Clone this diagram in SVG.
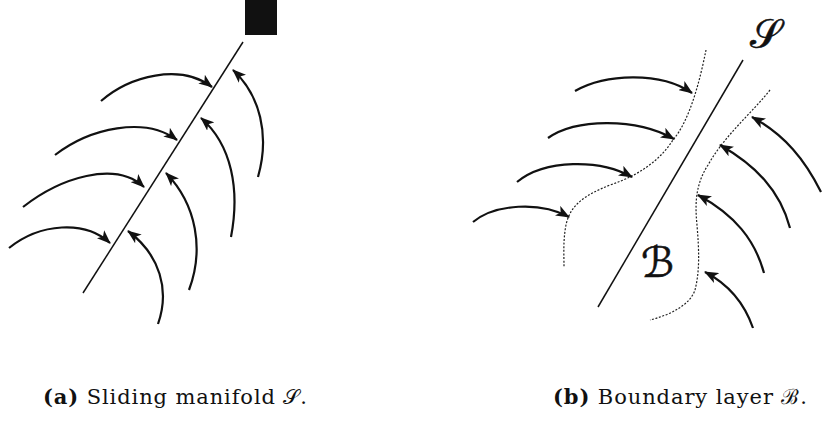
<svg xmlns="http://www.w3.org/2000/svg" width="822" height="421" viewBox="0 0 822 421">
<style>
.ln{fill:none;stroke:#111;stroke-width:1.5}
.ar{fill:none;stroke:#111;stroke-width:2.2;marker-end:url(#ah)}
.ds{fill:none;stroke:#222;stroke-width:1.2;stroke-dasharray:2 1.6}
.cap{font-family:"DejaVu Serif","Liberation Serif",serif;font-size:21px;fill:#111}
.sym{font-family:"DejaVu Serif","DejaVu Sans","Noto Sans",serif;fill:#111;stroke:#111;stroke-width:0.6}
</style>
<defs>
<marker id="ah" viewBox="0 0 14 11" refX="13" refY="5.5" markerWidth="14" markerHeight="11" markerUnits="userSpaceOnUse" orient="auto">
<path d="M0,0 L14,5.5 L0,11 L3.5,5.5 Z" fill="#111"/>
</marker>
</defs>
<g id="panel-a">
<g id="block"><rect x="245" y="0" width="32" height="35" fill="#111"/></g>
<g id="manifold-a"><path class="ln" d="M243,42 L83,293"/></g>
<g id="connectors-a">
<path class="ar" d="M101,101 C130,76 180,63 212,87"/>
<path class="ar" d="M55,155 C90,128 145,116 177,140"/>
<path class="ar" d="M23,207 C60,178 115,160 144,187"/>
<path class="ar" d="M9,248 C40,223 85,220 110,243"/>
<path class="ar" d="M258,177 C270,135 260,95 233,70"/>
<path class="ar" d="M231,237 C240,190 232,145 201,118"/>
<path class="ar" d="M189,290 C204,250 197,205 166,173"/>
<path class="ar" d="M158,324 C170,290 160,255 128,231"/>
</g>
</g>
<g id="panel-b">
<g id="manifold-b"><path class="ln" d="M743,60 L598,307"/></g>
<g id="layer-b">
<path class="ds" d="M706,50 C700,80 690,120 673,140 C660,160 640,175 610,185 C585,195 570,205 566,225 C563,240 564,255 564,267"/>
<path class="ds" d="M770,90 C750,115 725,135 708,165 C695,185 695,205 697,225 C699,250 700,270 695,290 C690,305 670,315 650,320"/>
</g>
<g id="connectors-b">
<path class="ar" d="M575,91 C605,74 660,71 692,93"/>
<path class="ar" d="M548,138 C575,119 635,117 674,139"/>
<path class="ar" d="M517,182 C545,159 600,159 632,177"/>
<path class="ar" d="M473,222 C495,204 540,201 569,217"/>
<path class="ar" d="M821,192 C805,160 785,135 752,117"/>
<path class="ar" d="M790,228 C780,190 755,165 720,145"/>
<path class="ar" d="M764,273 C755,240 735,215 698,195"/>
<path class="ar" d="M753,328 C745,305 730,285 705,272"/>
</g>
<g id="label-S"><text class="sym" x="750" y="48" font-size="40">𝒮</text></g>
<g id="label-B"><text class="sym" x="641" y="277" font-size="42">ℬ</text></g>
</g>
<g id="captions">
<text class="cap" x="43" y="404" textLength="264" lengthAdjust="spacing"><tspan font-weight="bold">(a)</tspan> Sliding manifold 𝒮.</text>
<text class="cap" x="553" y="404" textLength="254" lengthAdjust="spacing"><tspan font-weight="bold">(b)</tspan> Boundary layer ℬ.</text>
</g>
</svg>
